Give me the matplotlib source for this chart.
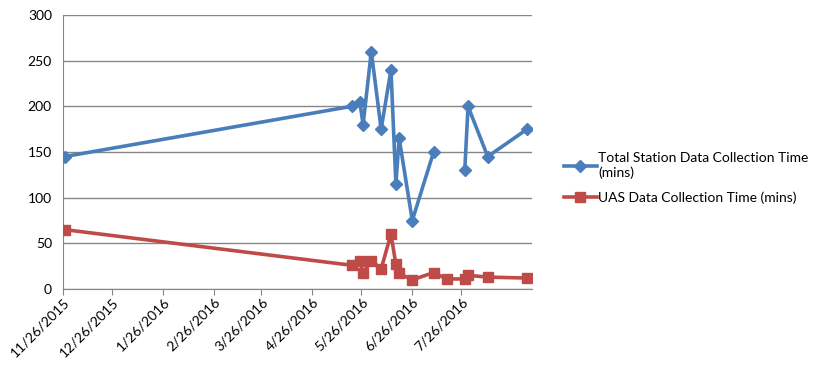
import numpy as np
import pandas as pd
import matplotlib
matplotlib.use("Agg")
import matplotlib.pyplot as plt

# data
dates = ["2015-11-27", "2016-05-20", "2016-05-25", "2016-05-27", "2016-06-01",
         "2016-06-07", "2016-06-13", "2016-06-16", "2016-06-18", "2016-06-26",
         "2016-07-09", "2016-07-17", "2016-07-28", "2016-07-30", "2016-08-11",
         "2016-09-04"]
total_station = [145, 200, 205, 180, 260, 175, 240, 115, 165, 75, 150, np.nan,
                 130, 200, 145, 175]
uas = [65, 26, 31, 17, 31, 22, 60, 27, 17, 10, 18, 11, 11, 15, 13, 12]

tick_labels = ["11/26/2015", "12/26/2015", "1/26/2016", "2/26/2016", "3/26/2016",
               "4/26/2016", "5/26/2016", "6/26/2016", "7/26/2016"]
y_ticks = [0, 50, 100, 150, 200, 250, 300]

plt.rcParams["font.family"] = ["Lato", "DejaVu Sans"]

x = pd.to_datetime(dates)
tick_pos = pd.to_datetime(tick_labels, format="%m/%d/%Y")

fig = plt.figure(figsize=(8.22, 3.72), dpi=100)
ax = fig.add_axes([63 / 822, 1 - 289 / 372, (532 - 63) / 822, (289 - 15) / 372])

blue = "#4A7EBB"
red = "#BE4B48"

ax.plot(x, total_station, color=blue, lw=2.6, marker="D", ms=6.5,
        label="Total Station Data Collection Time\n(mins)", zorder=3)
ax.plot(x, uas, color=red, lw=2.6, marker="s", ms=7.5,
        label="UAS Data Collection Time (mins)", zorder=3)

ax.set_ylim(0, 300)
ax.set_yticks(y_ticks)
ax.set_xlim(pd.Timestamp("2015-11-26"), pd.Timestamp("2016-09-07"))
ax.set_xticks(tick_pos)
ax.set_xticklabels(tick_labels, rotation=45, ha="right", rotation_mode="anchor")

ax.grid(axis="y", color="#868686", lw=1)
ax.set_axisbelow(True)
for s in ["top", "right"]:
    ax.spines[s].set_visible(False)
for s in ["left", "bottom"]:
    ax.spines[s].set_color("#868686")
ax.tick_params(axis="y", length=0, labelsize=10, pad=8)
ax.tick_params(axis="x", length=4, color="#868686", labelsize=10, pad=1)

fig.legend(loc="center left", bbox_to_anchor=(551 / 822, 1 - 178 / 372),
           frameon=False, fontsize=10, handlelength=2.4, handletextpad=0.1,
           labelspacing=0.9)

fig.savefig("out.png", dpi=100)
